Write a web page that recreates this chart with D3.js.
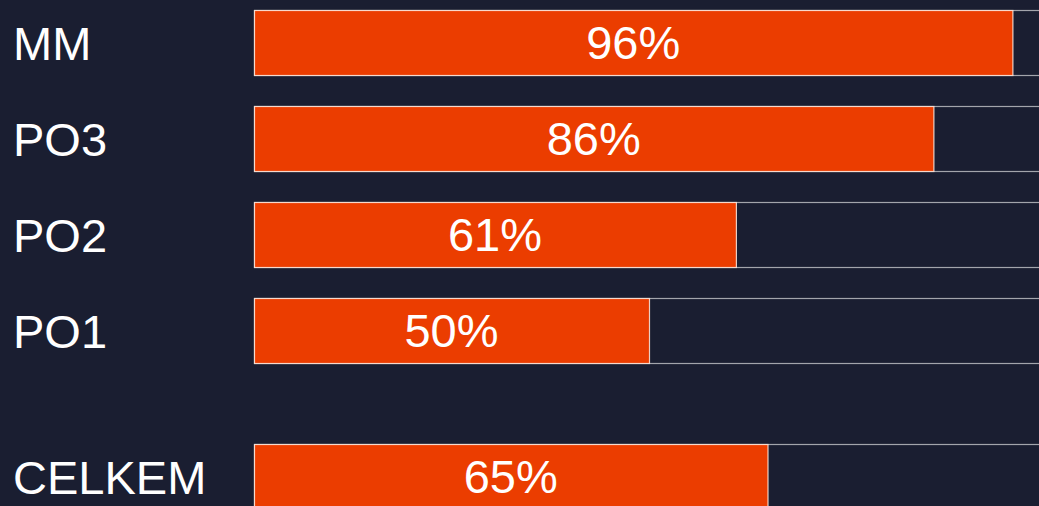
<!DOCTYPE html>
<html>
<head>
<meta charset="utf-8">
<script src="https://cdn.jsdelivr.net/npm/d3@7"></script>
<style>
  html, body { margin: 0; padding: 0; background: #1a1e31; overflow: hidden; }
  svg { display: block; }
</style>
</head>
<body>
<div id="chart"></div>
<script>
// Share of completion per group, plus the overall total
const categories = ["MM", "PO3", "PO2", "PO1", "CELKEM"];
const values = [96, 86, 61, 50, 65];
const valueLabels = ["96%", "86%", "61%", "50%", "65%"];

const width = 1039, height = 506;
const barLeft = 254, fullWidth = 790;
const rowTop = 10, rowStep = 96, barHeight = 66;
const totalGap = 50; // extra space before the summary row

const colors = {
  bg: "#1a1e31",
  fill: "#eb3d00",
  text: "#ffffff",
  track: "rgba(255,255,255,0.6)",
  barEdge: "rgba(255,235,225,0.85)"
};

const svg = d3.select("#chart").append("svg")
  .attr("width", width).attr("height", height);

svg.append("rect").attr("width", width).attr("height", height).attr("fill", colors.bg);

const x = d3.scaleLinear().domain([0, 100]).range([barLeft, barLeft + fullWidth]);

const band = d3.scaleBand()
  .domain(categories)
  .range([rowTop, rowTop + rowStep * categories.length])
  .paddingInner(0).paddingOuter(0);

const rows = categories.map((c, i) => ({
  cat: c,
  value: values[i],
  label: valueLabels[i],
  y: band(c) + (c === "CELKEM" ? totalGap : 0)
}));

const g = svg.selectAll("g.row").data(rows).join("g").attr("class", "row")
  .attr("transform", d => `translate(0,${d.y})`);

// full-length track
g.append("rect")
  .attr("x", x(0) + 0.5).attr("y", 0.5)
  .attr("width", x(100) - x(0)).attr("height", barHeight - 1)
  .attr("fill", "none")
  .attr("stroke", colors.track).attr("stroke-width", 1.2);

// filled portion
g.append("rect")
  .attr("x", x(0) + 0.5).attr("y", 0.5)
  .attr("width", d => x(d.value) - x(0))
  .attr("height", barHeight - 1)
  .attr("fill", colors.fill)
  .attr("stroke", colors.barEdge).attr("stroke-width", 1.2);

// category labels
g.append("text")
  .attr("x", 13).attr("y", barHeight / 2 + 17)
  .attr("fill", colors.text)
  .style("font-family", "'Liberation Sans', Arial, sans-serif")
  .style("font-size", "47px")
  .text(d => d.cat);

// value labels centred in the filled bar
g.append("text")
  .attr("x", d => (x(0) + x(d.value)) / 2)
  .attr("y", barHeight / 2 + 16)
  .attr("text-anchor", "middle")
  .attr("fill", colors.text)
  .style("font-family", "'Liberation Sans', Arial, sans-serif")
  .style("font-size", "47px")
  .text(d => d.label);
</script>
</body>
</html>
